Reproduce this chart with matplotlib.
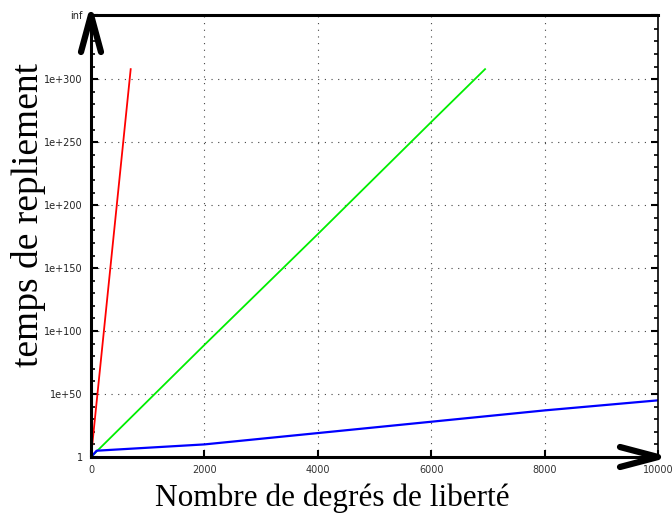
import matplotlib
matplotlib.use('Agg')
import matplotlib.pyplot as plt
from matplotlib.ticker import MultipleLocator

## data (y in log10 units)
red_x = [0, 700]
red_y = [0, 308]
green_x = [0, 2000, 4000, 6000, 6950]
green_y = [0, 89, 177, 266, 308]
blue_x = [0, 100, 2000, 4000, 6000, 8000, 10000]
blue_y = [0, 5, 10, 19, 28, 37, 45]

ytick_vals = [0, 50, 100, 150, 200, 250, 300, 351]
ytick_labels = ['1', '1e+50', '1e+100', '1e+150', '1e+200', '1e+250', '1e+300', 'inf']
xtick_vals = [0, 2000, 4000, 6000, 8000, 10000]

fig = plt.figure(figsize=(6.72, 5.16), dpi=100)
ax = fig.add_axes([91/672, 59/516, 567/672, 442/516])

ax.plot(red_x, red_y, color='#ff0000', lw=1.3)
ax.plot(green_x, green_y, color='#00ee00', lw=1.3)
ax.plot(blue_x, blue_y, color='#0000ff', lw=1.6)

ax.set_xlim(0, 10000)
ax.set_ylim(0, 351)
ax.set_xticks(xtick_vals)
ax.set_xticklabels([str(v) for v in xtick_vals], fontsize=7, color='#333333')
ax.set_yticks(ytick_vals)
ax.set_yticklabels(ytick_labels, fontsize=7, color='#222222')
ax.yaxis.set_minor_locator(MultipleLocator(10))

ax.tick_params(which='both', direction='in', right=True, top=False)
ax.tick_params(which='major', length=5, width=1.5, pad=6)
ax.tick_params(which='minor', length=3, width=1.2)

ax.grid(True, which='major', linestyle=(0, (1, 5)), color='#444444', lw=0.8)

for side in ['left', 'bottom', 'top']:
    ax.spines[side].set_linewidth(2.2)
ax.spines['right'].set_linewidth(1.2)

## arrows at the ends of the axes (sizes in pixels -> axes fraction)
w, h = 567.0, 442.0
ax.plot([-10/w, 0, 10/w], [1 - 37/h, 1.0, 1 - 37/h], transform=ax.transAxes,
        color='black', lw=4.5, clip_on=False, solid_capstyle='round')
ax.plot([1 - 38/w, 1.0, 1 - 38/w], [10/h, 0.0, -10/h], transform=ax.transAxes,
        color='black', lw=4.5, clip_on=False, solid_capstyle='round')

ax.set_xlabel('Nombre de degrés de liberté', family='Liberation Serif', fontsize=22.5)
ax.set_ylabel('temps de repliement', family='Liberation Serif', fontsize=27)
ax.xaxis.set_label_coords(0.425, -0.06, transform=ax.transAxes)
ax.yaxis.set_label_coords(-0.11, 0.547, transform=ax.transAxes)
ax.xaxis.label.set_va('top')
ax.yaxis.label.set_va('center')

fig.savefig('out.png', dpi=100)
